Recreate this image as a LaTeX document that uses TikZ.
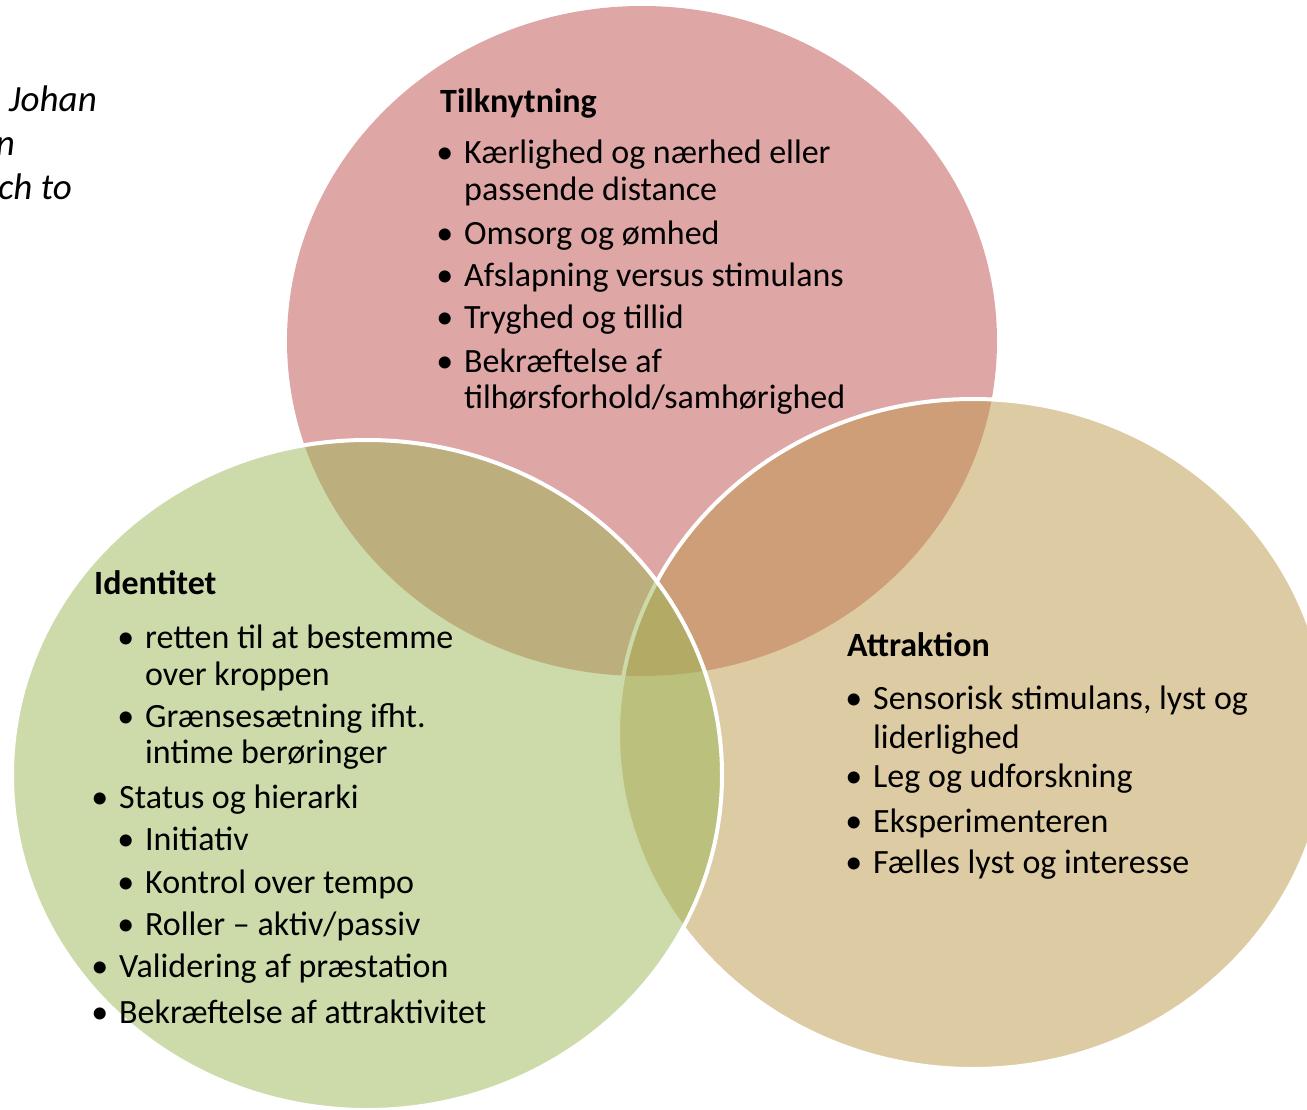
\documentclass[tikz,border=0pt]{standalone}
\usepackage{fontspec}
\setmainfont{Carlito}
\usepackage{xcolor}
\usepackage{tikz}
\definecolor{rosa}{RGB}{191,77,77}
\definecolor{groen}{RGB}{155,183,87}
\definecolor{brun}{RGB}{187,151,73}
\tikzstyle{felt} = [fill opacity=0.5]
\tikzstyle{kant} = [draw=white,line width=4pt]
\tikzstyle{linje} = [anchor=base west,inner sep=0pt,font=\fontsize{34}{36}\selectfont]
\tikzstyle{titel} = [anchor=base west,inner sep=0pt,font=\fontsize{34}{36}\selectfont\bfseries]
\newcommand{\pkt}{\llap{\textbullet\hspace{11pt}}}

\begin{document}
\begin{tikzpicture}[x=1pt,y=-1pt]
                \useasboundingbox (0,0) rectangle (1307,1109);
                \clip (0,0) rectangle (1307,1109);
                \fill [rosa,felt] (642,341) ellipse [x radius=355,y radius=335];
                \draw [kant,fill=brun,felt] (973,734) ellipse [x radius=355,y radius=335];
                \draw [kant,fill=groen,felt] (367,775) ellipse [x radius=355,y radius=335];
                \begin{scope}[every node/.style={anchor=base east,inner sep=0pt,font=\fontsize{37}{45}\selectfont\itshape}]
                    \node (kilde1) at (97,111) {Johan};
                    \node (kilde2) at (15,155) {n};
                    \node (kilde3) at (72,199) {ch to};
                \end{scope}
                \node[titel] (tilk) at (440,112) {Tilknytning};
                \foreach \y/\t [count=\i] in {163/{\pkt Kærlighed og nærhed eller},200/{passende distance},
                    244/{\pkt Omsorg og ømhed},286/{\pkt Afslapning versus stimulans},328/{\pkt Tryghed og tillid},
                    372/{\pkt Bekræftelse af},408/{tilhørsforhold/samhørighed}}
                    \node[linje] (tilk\i) at (464,\y) {\t};
                \node[titel] (iden) at (94,594) {Identitet};
                \foreach \x/\y/\t [count=\i] in {145/648/{\pkt retten til at bestemme},145/685/{over kroppen},
                    145/727/{\pkt Grænsesætning ifht.},145/763/{intime berøringer},119/808/{\pkt Status og hierarki},
                    145/850/{\pkt Initiativ},145/893/{\pkt Kontrol over tempo},145/935/{\pkt Roller – aktiv/passiv},
                    119/977/{\pkt Validering af præstation},119/1023/{\pkt Bekræftelse af attraktivitet}}
                    \node[linje] (iden\i) at (\x,\y) {\t};
                \node[titel] (attr) at (847,656) {Attraktion};
                \foreach \y/\t [count=\i] in {709/{\pkt Sensorisk stimulans, lyst og},748/{liderlighed},
                    787/{\pkt Leg og udforskning},832/{\pkt Eksperimenteren},873/{\pkt Fælles lyst og interesse}}
                    \node[linje] (attr\i) at (873,\y) {\t};
\end{tikzpicture}
\end{document}
